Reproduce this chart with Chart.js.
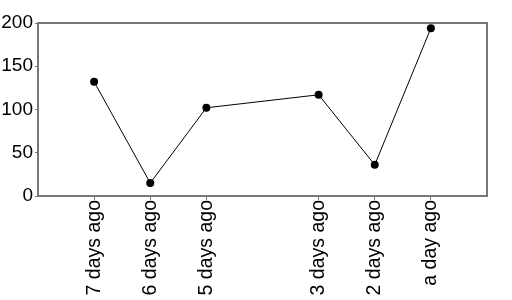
<!DOCTYPE html>
<html>
<head>
<meta charset="utf-8">
<script src="https://cdn.jsdelivr.net/npm/chart.js@4"></script>
<style>
  html, body { margin: 0; padding: 0; background: #fff; }
  #wrap { width: 512px; height: 300px; }
</style>
</head>
<body>
<div id="wrap"><canvas id="chart" width="512" height="300"></canvas></div>
<script>
// days relative to today, with their labels
const days = [-7, -6, -5, -3, -2, -1];
const dayLabels = ['7 days ago', '6 days ago', '5 days ago', '3 days ago', '2 days ago', 'a day ago'];
const values = [132, 15, 102, 117, 36, 194];
const yTicks = [0, 50, 100, 150, 200];

const points = days.map((d, i) => ({ x: d, y: values[i] }));

// box around the plot area
const frame = {
    id: 'frame',
    afterDraw(c) {
        const a = c.chartArea;
        const ctx = c.ctx;
        ctx.save();
        ctx.strokeStyle = '#777';
        ctx.lineWidth = 2;
        ctx.strokeRect(a.left, a.top, a.right - a.left, a.bottom - a.top);
        ctx.restore();
    }
};

new Chart(document.getElementById('chart'), {
    type: 'line',
    data: {
        datasets: [{
            data: points,
            borderColor: '#000',
            backgroundColor: '#000',
            borderWidth: 1,
            pointRadius: 4,
            pointBackgroundColor: '#000',
            pointBorderWidth: 0,
            tension: 0,
            fill: false
        }]
    },
    options: {
        responsive: false,
        animation: false,
        layout: { padding: { top: 23, right: 25, left: 0, bottom: 0 } },
        plugins: { legend: { display: false }, tooltip: { enabled: false } },
        scales: {
            x: {
                type: 'linear',
                min: -8,
                max: 0,
                afterBuildTicks: s => { s.ticks = days.map(v => ({ value: v })); },
                afterFit: s => { s.height = 104; },
                grid: { drawOnChartArea: false, drawTicks: true, tickLength: 4, color: '#777', lineWidth: 1 },
                border: { display: false },
                ticks: {
                    minRotation: 90,
                    maxRotation: 90,
                    autoSkip: false,
                    padding: 0,
                    color: '#000',
                    font: { family: 'Liberation Sans', size: 19.5 },
                    callback: v => dayLabels[days.indexOf(v)]
                }
            },
            y: {
                min: 0,
                max: 200,
                afterBuildTicks: s => { s.ticks = yTicks.map(v => ({ value: v })); },
                afterFit: s => { s.width = 38; },
                grid: { drawOnChartArea: false, drawTicks: true, tickLength: 3, color: '#777', lineWidth: 1 },
                border: { display: false },
                ticks: {
                    padding: 2,
                    color: '#000',
                    font: { family: 'Liberation Sans', size: 19 }
                }
            }
        }
    },
    plugins: [frame]
});
</script>
</body>
</html>
